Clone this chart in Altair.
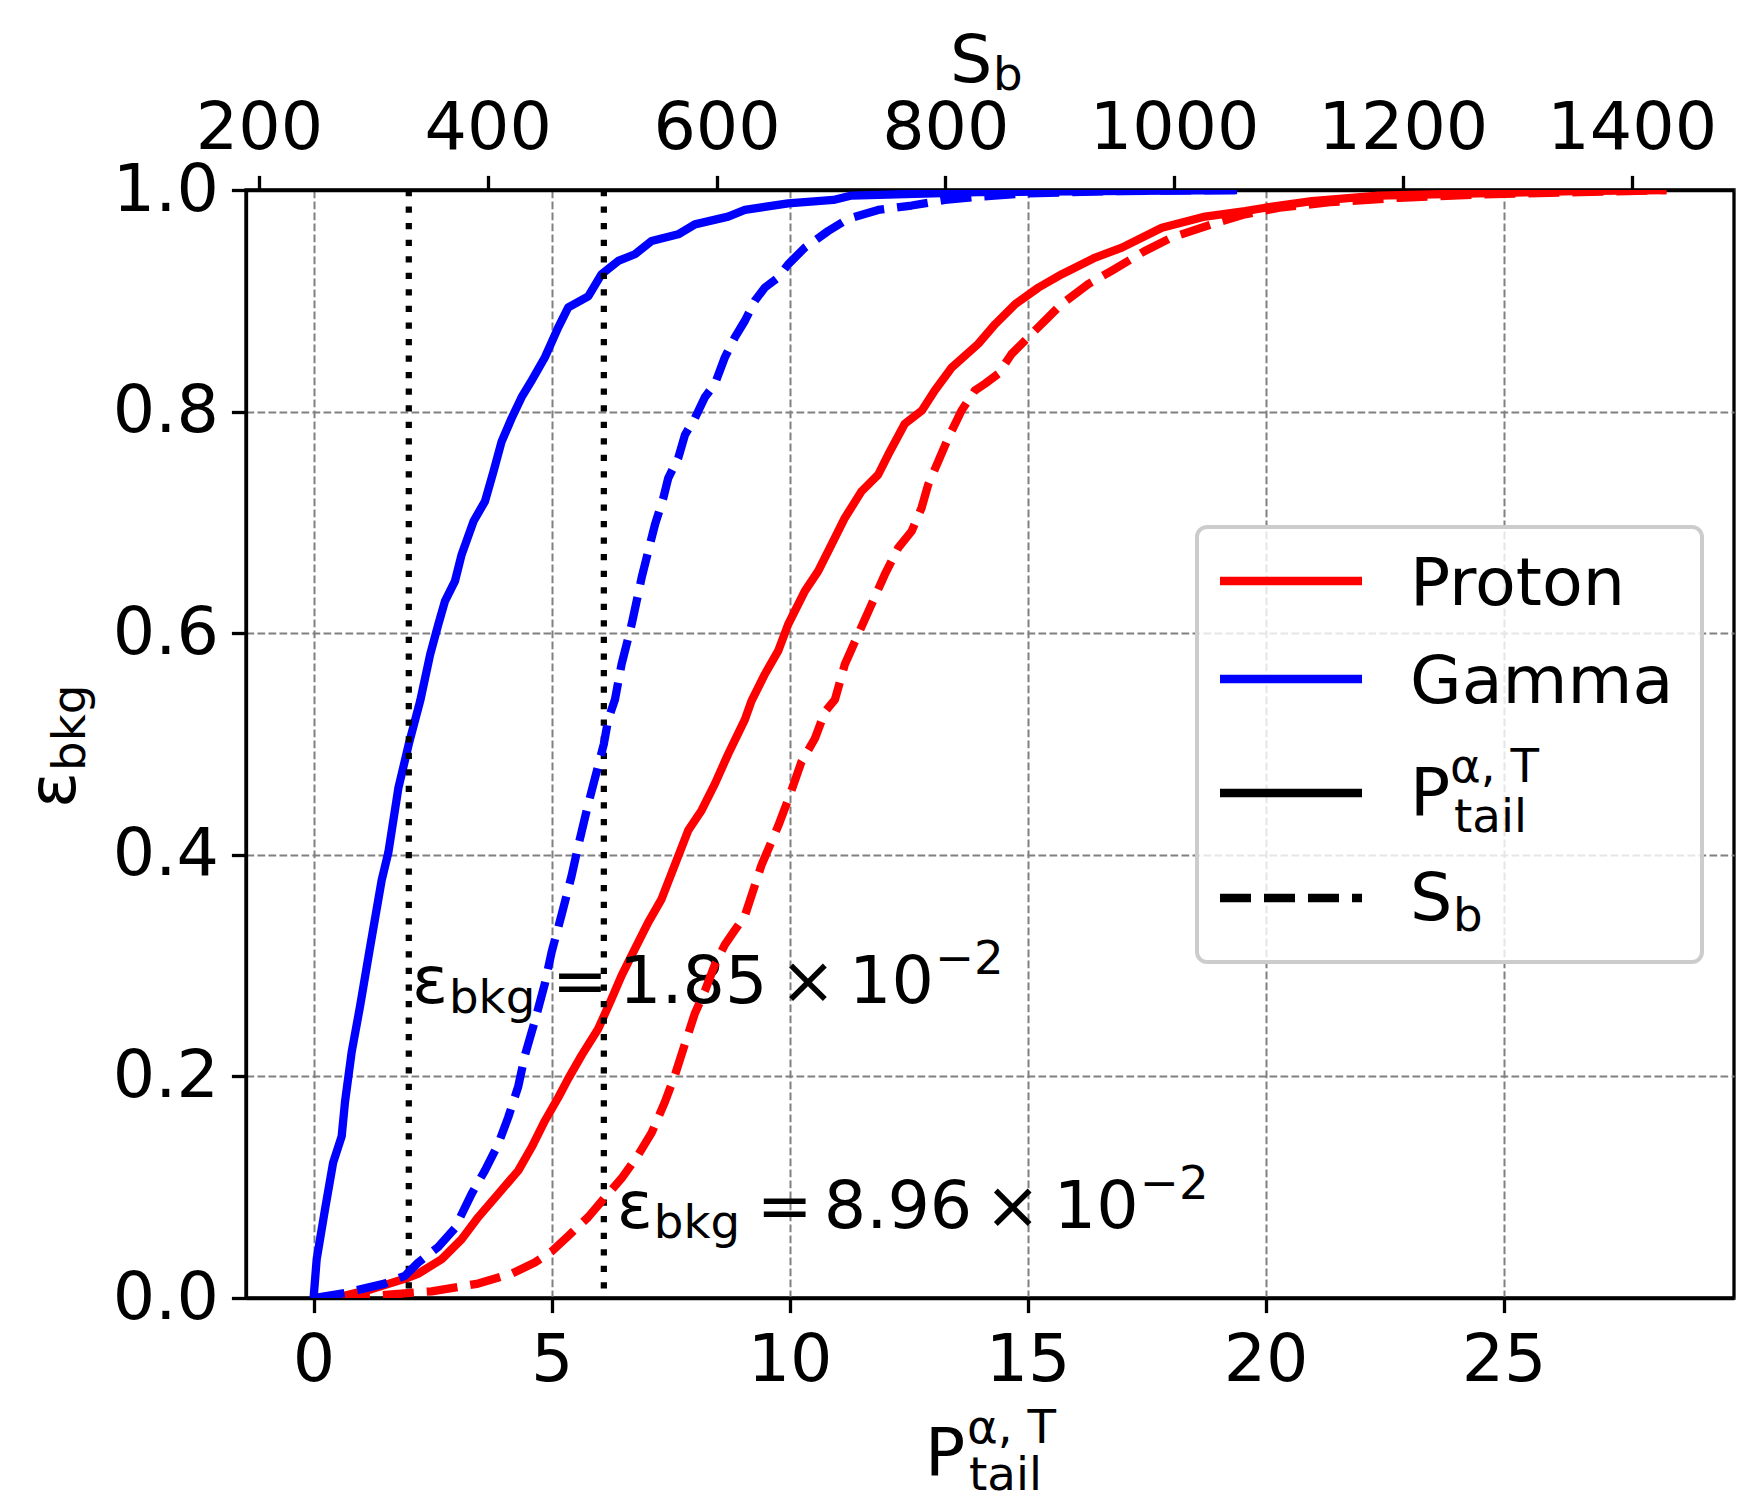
import altair as alt
import pandas as pd

# ------------------------------------------------------------------
# Data
# ------------------------------------------------------------------
# Gamma, P_tail (bottom axis)
gamma_ptail_x = [0.0, 0.065, 0.24, 0.41, 0.59, 0.66, 0.80, 0.975, 1.18, 1.43, 1.57, 1.78, 2.0,
                 2.24, 2.45, 2.62, 2.76, 2.97, 3.11, 3.36, 3.60, 3.78, 3.95, 4.16, 4.37, 4.58,
                 4.86, 5.14, 5.35, 5.77, 6.05, 6.40, 6.75, 7.10, 7.66, 8.01, 8.71, 9.06, 9.97,
                 10.92, 11.30, 13.96, 16.5, 19.4]
gamma_ptail_y = [0.0, 0.035, 0.080, 0.122, 0.146, 0.177, 0.222, 0.263, 0.315, 0.377, 0.402, 0.460, 0.50,
                 0.539, 0.581, 0.608, 0.629, 0.647, 0.671, 0.701, 0.719, 0.746, 0.773, 0.794, 0.813, 0.828,
                 0.849, 0.876, 0.894, 0.904, 0.924, 0.936, 0.942, 0.954, 0.960, 0.969, 0.976, 0.982, 0.988,
                 0.991, 0.995, 0.998, 0.999, 1.0]

# Proton, P_tail (bottom axis)
proton_ptail_x = [0.45, 1.22, 2.0, 2.20, 2.69, 3.11, 3.46, 3.88, 4.30, 4.58, 4.86, 5.14, 5.35, 5.63,
                  5.98, 6.26, 6.47, 6.75, 7.03, 7.31, 7.59, 7.87, 8.15, 8.43, 8.71, 9.06, 9.20, 9.48,
                  9.76, 9.97, 10.32, 10.60, 10.88, 11.16, 11.51, 11.86, 12.07, 12.42, 12.78, 13.05,
                  13.41, 13.96, 14.32, 14.74, 15.23, 15.72, 16.42, 16.98, 17.82, 18.73, 19.57, 19.99,
                  20.97, 22.37, 24.46, 26.5, 28.42]
proton_ptail_y = [0.0, 0.008, 0.0185, 0.022, 0.035, 0.053, 0.073, 0.094, 0.115, 0.136, 0.160, 0.181,
                  0.198, 0.219, 0.243, 0.270, 0.291, 0.315, 0.339, 0.360, 0.391, 0.422, 0.440, 0.464,
                  0.491, 0.522, 0.539, 0.563, 0.584, 0.608, 0.638, 0.656, 0.680, 0.704, 0.728, 0.743,
                  0.761, 0.789, 0.801, 0.819, 0.840, 0.861, 0.879, 0.897, 0.912, 0.924, 0.939, 0.948,
                  0.966, 0.976, 0.981, 0.984, 0.990, 0.995, 0.997, 0.999, 1.0]

# Gamma, S_b (top axis)
gamma_sb_x = [248, 275, 310, 327.6, 339.3, 356.7, 371.3, 385.9, 397.5, 409.2, 417.9, 426.7, 432.5,
              441.2, 450, 455.8, 464.6, 473.3, 479.1, 487.9, 501.5, 505.3, 511.2, 517.0, 525.8, 534.5,
              540.3, 546.2, 553.5, 557.8, 566.5, 572.4, 581.1, 589.8, 598.6, 607.3, 616.0, 624.8,
              633.5, 642.3, 653.9, 662.7, 677.2, 697.6, 715.1, 741.3, 770.5, 799.6, 828.7, 872.4,
              950, 1058]
gamma_sb_y = [0.0, 0.0045, 0.013, 0.020, 0.032, 0.046, 0.063, 0.094, 0.115, 0.139, 0.163, 0.191, 0.219,
              0.250, 0.284, 0.312, 0.346, 0.381, 0.408, 0.446, 0.50, 0.522, 0.540, 0.572, 0.608, 0.650,
              0.674, 0.698, 0.722, 0.740, 0.758, 0.779, 0.794, 0.813, 0.825, 0.849, 0.867, 0.882,
              0.900, 0.912, 0.921, 0.933, 0.948, 0.963, 0.974, 0.982, 0.986, 0.991, 0.994, 0.997,
              0.999, 1.0]

# Proton, S_b (top axis)
proton_sb_x = [270, 313, 350.9, 391.7, 420.9, 441.2, 455.8, 470.4, 487.8, 501.5, 517.0, 531.5, 543.2,
               554.9, 563.6, 572.3, 581.1, 589.8, 598.6, 607.3, 616.0, 624.8, 639.4, 653.9, 662.7,
               674.3, 686.0, 694.7, 703.5, 712.2, 723.8, 735.5, 747.1, 758.8, 770.5, 779.2, 785.0,
               793.8, 802.5, 814.2, 825.8, 834.5, 846.2, 857.9, 872.4, 887.0, 901.6, 924.9, 945.3,
               974.4, 997.7, 1032.7, 1061.8, 1092, 1136, 1197, 1267, 1355, 1430.3]
proton_sb_y = [0.0, 0.003, 0.006, 0.013, 0.022, 0.032, 0.042, 0.056, 0.073, 0.0896, 0.108, 0.129, 0.149,
               0.177, 0.201, 0.229, 0.257, 0.277, 0.301, 0.319, 0.332, 0.345, 0.391, 0.426, 0.450,
               0.484, 0.505, 0.529, 0.540, 0.572, 0.599, 0.626, 0.653, 0.677, 0.692, 0.713, 0.734,
               0.755, 0.776, 0.801, 0.819, 0.825, 0.834, 0.852, 0.867, 0.882, 0.897, 0.915, 0.927,
               0.945, 0.957, 0.969, 0.978, 0.984, 0.989, 0.993, 0.996, 0.998, 1.0]

# Cuts (50 % gamma efficiency) and the annotated background efficiencies
ptail_cut = [2.0]
sb_cut = [501.5]
ann_ptail_x = [2.067]
ann_ptail_y = [0.266]
ann_ptail_mant = ["1.85"]
ann_sb_x = [512.8]
ann_sb_y = [0.063]
ann_sb_mant = ["8.96"]
ann_exp = ["\u22122"]

species = ["Proton", "Gamma"]
species_colors = ["#ff0000", "#0000ff"]

bottom_ticks = [0, 5, 10, 15, 20, 25]
top_ticks = [200, 400, 600, 800, 1000, 1200, 1400]
y_ticks = [0.0, 0.2, 0.4, 0.6, 0.8, 1.0]

# ------------------------------------------------------------------
W, H = 1488, 1108
PAD = {"left": 246, "top": 190, "right": 30, "bottom": 196}
FONT = "DejaVu Sans"
FS = 66.7
SFS = 46.7
LW = 8.3

xb_scale = alt.Scale(domain=[-1.42, 29.84], nice=False, zero=False)
xt_scale = alt.Scale(domain=[188.7, 1489.4], nice=False, zero=False)
y_scale = alt.Scale(domain=[0, 1], nice=False, zero=False)
color_scale = alt.Scale(domain=species, range=species_colors)

AX = dict(labelFont=FONT, labelFontSize=FS, labelColor="black",
          tickColor="black", tickWidth=3.3, tickSize=14.6,
          domainColor="black", domainWidth=3.3,
          gridColor="#808080", gridDash=[7.7, 3.3], gridWidth=2,
          labelFlush=False, labelOverlap=False, title=None)

y_axis = alt.Axis(orient="left", values=y_ticks, format=".1f", grid=True, labelPadding=13, **AX)
xb_axis = alt.Axis(orient="bottom", values=bottom_ticks, format="d", grid=True, labelPadding=15, **AX)
xt_axis = alt.Axis(orient="top", values=top_ticks, format="d", grid=False, labelPadding=13, **AX)

solid_df = pd.concat([
    pd.DataFrame({"x": proton_ptail_x, "y": proton_ptail_y, "s": species[0]}),
    pd.DataFrame({"x": gamma_ptail_x, "y": gamma_ptail_y, "s": species[1]}),
])
dashed_df = pd.concat([
    pd.DataFrame({"x": proton_sb_x, "y": proton_sb_y, "s": species[0]}),
    pd.DataFrame({"x": gamma_sb_x, "y": gamma_sb_y, "s": species[1]}),
])

solid = alt.Chart(solid_df).mark_line(clip=True, strokeWidth=LW, strokeJoin="round").encode(
    x=alt.X("x:Q", scale=xb_scale, axis=xb_axis),
    y=alt.Y("y:Q", scale=y_scale, axis=y_axis),
    color=alt.Color("s:N", scale=color_scale, legend=None),
    detail="s:N",
)

rule_b = alt.Chart(pd.DataFrame({"x": ptail_cut})).mark_rule(
    color="black", strokeWidth=6.25, strokeDash=[6.25, 10.3]
).encode(x=alt.X("x:Q", scale=xb_scale, axis=xb_axis))

rule_t = alt.Chart(pd.DataFrame({"x": sb_cut})).mark_rule(
    color="black", strokeWidth=6.25, strokeDash=[6.25, 10.3]
).encode(x=alt.X("x:Q", scale=xt_scale, axis=xt_axis))

dashed = alt.Chart(dashed_df).mark_line(clip=True, strokeWidth=LW, strokeDash=[31, 13],
                                         strokeJoin="round").encode(
    x=alt.X("x:Q", scale=xt_scale, axis=xt_axis),
    y=alt.Y("y:Q", scale=y_scale, axis=y_axis),
    color=alt.Color("s:N", scale=color_scale, legend=None),
    detail="s:N",
)

# pieces of "ε_bkg = m × 10^−2" : (text field / literal, dx, dy, size, align)
PIECES = [
    ("\u03b5", 0, 0, FS, "left"),
    ("bkg", 37, 10, SFS, "left"),
    ("=", 168, 0, FS, "center"),
    ("@mant", 207, 0, FS, "left"),
    ("\u00d7", 396, 0, FS, "center"),
    ("10", 437, 0, FS, "left"),
    ("@exp", 523, -29, SFS, "left"),
]


def annotation(xs, ys, mants, xscale, xaxis):
    df = pd.DataFrame({"x": xs, "y": ys, "mant": mants, "exp": ann_exp * len(xs)})
    layers = []
    for txt, dx, dy, size, align in PIECES:
        enc = dict(
            x=alt.X("x:Q", scale=xscale, axis=xaxis),
            y=alt.Y("y:Q", scale=y_scale, axis=y_axis),
        )
        if txt.startswith("@"):
            enc["text"] = alt.Text(txt[1:] + ":N")
        else:
            enc["text"] = alt.value(txt)
        layers.append(
            alt.Chart(df).mark_text(font=FONT, fontSize=size, align=align, baseline="alphabetic",
                                    dx=dx, dy=dy, color="black").encode(**enc)
        )
    return layers


bottom_layer = alt.layer(solid, rule_b, *annotation(ann_ptail_x, ann_ptail_y, ann_ptail_mant,
                                                    xb_scale, xb_axis))
top_layer = alt.layer(rule_t, *annotation(ann_sb_x, ann_sb_y, ann_sb_mant, xt_scale, xt_axis),
                      dashed)


# ---------------- decorations placed in pixels ----------------
def ptext(t, px, py, size=FS, angle=0, align="left"):
    return alt.Chart(pd.DataFrame({"t": [t]})).mark_text(
        font=FONT, fontSize=size, align=align, baseline="alphabetic", angle=angle, color="black"
    ).encode(x=alt.value(px), y=alt.value(py), text="t:N")


def pline(y, color, dash=None):
    kw = dict(color=color, strokeWidth=LW)
    if dash:
        kw["strokeDash"] = dash
    return alt.Chart(pd.DataFrame({"t": [0]})).mark_rule(**kw).encode(
        x=alt.value(974), x2=alt.value(1116), y=alt.value(y))


legend_box = alt.Chart(pd.DataFrame({"t": [0]})).mark_rect(
    cornerRadius=10, fill="white", fillOpacity=0.8, stroke="#cccccc", strokeWidth=4
).encode(x=alt.value(951), x2=alt.value(1456), y=alt.value(337), y2=alt.value(772))

legend_layers = [
    legend_box,
    pline(391, species_colors[0]), ptext(species[0], 1164, 415),
    pline(489, species_colors[1]), ptext(species[1], 1164, 513),
    pline(603, "black"), ptext("P", 1164, 625), ptext("\u03b1, T", 1204, 592, SFS),
    ptext("tail", 1208, 642, SFS),
    pline(708, "black", [31, 13]), ptext("S", 1164, 730), ptext("b", 1207, 741, SFS),
]

axis_titles = [
    # bottom: P^{α,T}_{tail}
    ptext("P", 679, 1285), ptext("\u03b1, T", 721, 1253, SFS), ptext("tail", 723, 1300, SFS),
    # top: S_b
    ptext("S", 704, -108), ptext("b", 747, -100, SFS),
    # left: ε_bkg (rotated)
    ptext("\u03b5", -171, 618, FS, angle=270), ptext("bkg", -161, 581, SFS, angle=270),
]

chart = alt.layer(bottom_layer, top_layer, *legend_layers, *axis_titles).resolve_scale(
    x="independent"
).properties(
    width=W, height=H, padding=PAD, autosize=alt.AutoSizeParams(type="none"),
    background="white",
).configure_view(
    stroke="black", strokeWidth=3.3
).configure_axis(**{k: v for k, v in AX.items() if k != "title"})

chart.save("out.html", embed_options={"renderer": "svg", "actions": False})
